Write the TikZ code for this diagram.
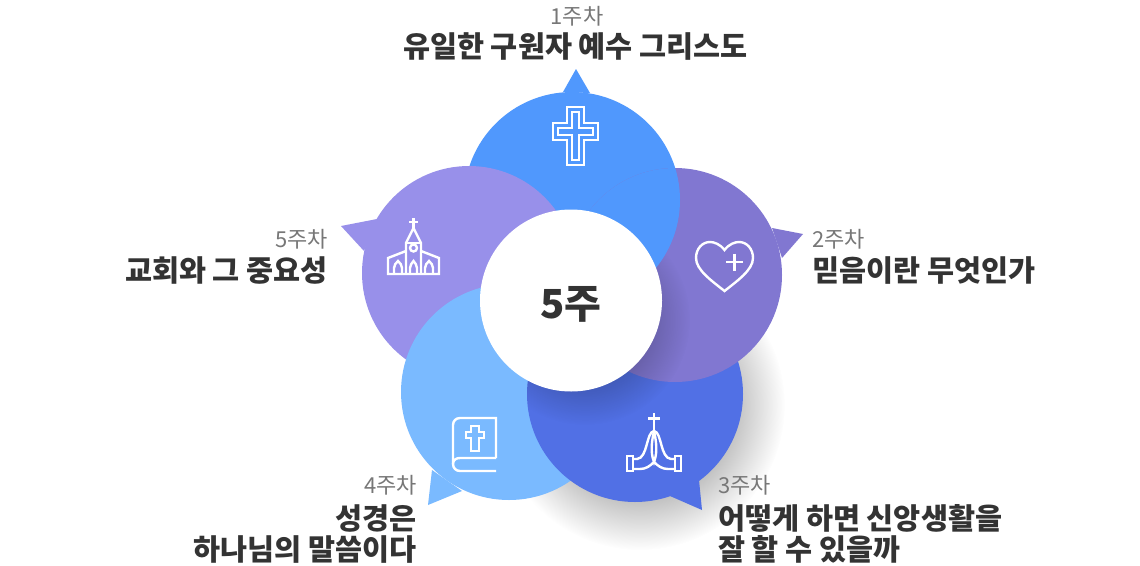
\documentclass[tikz,border=0pt]{standalone}
\usepackage{fontspec}
\setmainfont{Noto Sans CJK KR}
\usetikzlibrary{fadings}
\definecolor{weekone}{HTML}{5098FD}
\definecolor{weektwo}{HTML}{8177D1}
\definecolor{weekthree}{HTML}{5170E5}
\definecolor{weekfour}{HTML}{7ABAFF}
\definecolor{weekfive}{HTML}{9890EA}
\definecolor{inktitle}{HTML}{333333}
\definecolor{inkweek}{HTML}{777777}
\tikzfading[name=softshadow, inner color=transparent!30, outer color=transparent!100]
\tikzfading[name=softcentre, inner color=transparent!50, outer color=transparent!100]
\tikzset{
  icon/.style={draw=white, line width=2.4pt, line join=miter},
  weeklabel/.style={inner sep=0pt, text=inkweek, font=\fontsize{22}{22}\selectfont},
  titlelabel/.style={inner sep=0pt, text=inktitle, font=\fontsize{29.4}{29.4}\selectfont\bfseries}
}
\begin{document}
\begin{tikzpicture}[x=1pt, y=-1pt]
      \useasboundingbox (0,0) rectangle (1140,565);
      \fill[white] (0,0) rectangle (1140,565);
      \coordinate (c1) at (572,200);
      \coordinate (c2) at (675,275);
      \coordinate (c3) at (635,394);
      \coordinate (c4) at (509,392);
      \coordinate (c5) at (469,273);
      \coordinate (mid) at (571,300.5);
      \fill[black, path fading=softshadow] (640,405) circle (145);
      \fill[weekone] (c1) circle (108);
      \fill[weekone] (576,69) -- (590,93) -- (563,92) -- cycle;
      \fill[weekfive] (c5) circle (107);
      \fill[weekfive] (341,226) -- (377,219) -- (364,251) -- cycle;
      \fill[weekfour] (c4) circle (108);
      \fill[weekfour] (428,505) -- (432,470) -- (462,491) -- cycle;
      \fill[weekthree] (c3) circle (108);
      \fill[weekthree] (702,510) -- (699,480) -- (670,496) -- cycle;
      \fill[weektwo] (c2) circle (107);
      \fill[weektwo] (803,234) -- (772,228) -- (782,258) -- cycle;
      \begin{scope}
        \clip (c2) circle (107) (c3) circle (108);
        \fill[black, path fading=softcentre] (585,320) circle (105);
      \end{scope}
      \begin{scope}
        \clip (572,90) rectangle (690,320);
        \clip (c2) circle (107);
        \fill[weekone] (c1) circle (108);
      \end{scope}
      \fill[white] (mid) circle (91);
      \draw[icon] (567,107) -- (584,107) -- (584,123) -- (598,123) -- (598,140) -- (584,140) -- (584,165) -- (567,165) -- (567,140) -- (553,140) -- (553,123) -- (567,123) -- cycle;
      \draw[icon] (572,112) -- (579,112) -- (579,128) -- (593,128) -- (593,135) -- (579,135) -- (579,160) -- (572,160) -- (572,135) -- (558,135) -- (558,128) -- (572,128) -- cycle;
      \draw[icon] (413.5,218) -- (413.5,228);
      \draw[icon] (409,222) -- (418,222);
      \draw[icon] (406,274) -- (406,243) -- (413.5,228) -- (421,243) -- (421,274);
      \draw[icon] (406,243) -- (421,243);
      \draw[icon] (413.5,248) circle (3.5);
      \draw[icon] (406,251) -- (388,258) -- (388,274) -- (439,274) -- (439,258) -- (421,251);
      \draw[icon] (394,274) -- (394,268) .. controls (394,265) and (396,263) .. (398,261) .. controls (400,263) and (402,265) .. (402,268) -- (402,274);
      \draw[icon] (410,274) -- (410,268) .. controls (410,265) and (412,263) .. (413.5,261) .. controls (415,263) and (417,265) .. (417,268) -- (417,274);
      \draw[icon] (425,274) -- (425,268) .. controls (425,265) and (427,263) .. (429,261) .. controls (431,263) and (433,265) .. (433,268) -- (433,274);
      \draw[icon] (724.5,250) .. controls (729,244) and (735,242) .. (739,242) .. controls (747,242) and (753,249) .. (753,258) .. controls (753,270) and (737,281) .. (724.5,291) .. controls (712,281) and (696,270) .. (696,258) .. controls (696,249) and (702,242) .. (710,242) .. controls (714,242) and (720,244) .. (724.5,250) -- cycle;
      \draw[icon] (726,262) -- (743,262);
      \draw[icon] (734.5,253.5) -- (734.5,270.5);
      \draw[icon] (654,413) -- (654,430);
      \draw[icon] (648,418.5) -- (660,418.5);
      \draw[icon] (627,456) rectangle (633,471);
      \draw[icon] (675,456) rectangle (681,471);
      \draw[icon] (633,459) -- (637,459) .. controls (648,458) and (646,432) .. (654,431) .. controls (662,432) and (660,458) .. (671,459) -- (675,459);
      \draw[icon] (633,469) -- (640,469) .. controls (646,469) and (650,466) .. (654,462) .. controls (658,466) and (662,469) .. (668,469) -- (675,469);
      \draw[icon] (654,431) .. controls (652,440) and (650,452) .. (654,462) .. controls (658,452) and (656,440) .. (654,431) -- cycle;
      \draw[icon] (496,458) -- (496,418) -- (460,418) .. controls (456,418) and (453,421) .. (453,425) -- (453,464) .. controls (453,468) and (456,471) .. (460,471) -- (496,471);
      \draw[icon] (453,464) .. controls (453,460) and (456,458) .. (460,458) -- (496,458);
      \draw[icon] (471,426) -- (479,426) -- (479,432) -- (484,432) -- (484,438) -- (479,438) -- (479,451) -- (471,451) -- (471,438) -- (466,438) -- (466,432) -- (471,432) -- cycle;
      \node[inner sep=0pt, text=inktitle, font=\fontsize{40}{40}\selectfont\bfseries] (mainlabel) at (571,304) {5주};
      \node[weeklabel] (week1) at (577,16) {1주차};
      \node[titlelabel] (title1) at (575.5,47) {유일한 구원자 예수 그리스도};
      \node[weeklabel, anchor=west] (week2) at (812,239) {2주차};
      \node[titlelabel, anchor=west] (title2) at (812,270) {믿음이란 무엇인가};
      \node[weeklabel, anchor=west] (week3) at (718,485) {3주차};
      \node[titlelabel, anchor=west] (title3a) at (718,518) {어떻게 하면 신앙생활을};
      \node[titlelabel, anchor=west] (title3b) at (718,549) {잘 할 수 있을까};
      \node[weeklabel, anchor=east] (week4) at (417,485) {4주차};
      \node[titlelabel, anchor=east] (title4a) at (417,518) {성경은};
      \node[titlelabel, anchor=east] (title4b) at (417,549) {하나님의 말씀이다};
      \node[weeklabel, anchor=east] (week5) at (328,239) {5주차};
      \node[titlelabel, anchor=east] (title5) at (328,270) {교회와 그 중요성};
    \end{tikzpicture}
\end{document}
